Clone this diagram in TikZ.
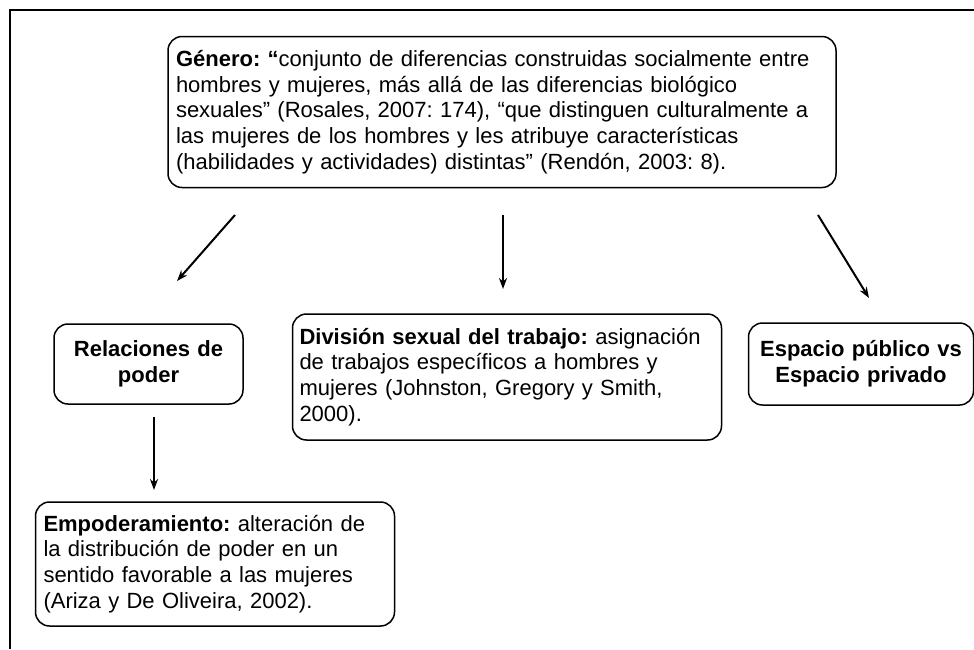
\documentclass[tikz,border=0pt]{standalone}
\usepackage{fontspec}
\setmainfont{Liberation Sans}
\usetikzlibrary{positioning,arrows.meta}
\frenchspacing

\tikzset{
  box/.style={draw, line width=1.5pt, rounded corners=14pt, inner xsep=8pt, inner ysep=4pt,
    font=\fontsize{22}{25.7}\selectfont},
  arr/.style={-{Stealth[length=11pt,width=8pt]}, line width=2pt},
}

\begin{document}
\begin{tikzpicture}[x=1pt,y=-1pt]
  \useasboundingbox (0,0) rectangle (974,649);
  \draw [line width=1.5pt] (10,649) -- (10,10) -- (974,10);

  \node [box, text width=652pt, align=left, minimum height=151pt] (genero) at (502,112)
    {\textbf{Género: “}conjunto de diferencias construidas socialmente entre\\
     hombres y mujeres, más allá de las diferencias biológico\\
     sexuales” (Rosales, 2007: 174), “que distinguen culturalmente a\\
     las mujeres de los hombres y les atribuye características\\
     (habilidades y actividades) distintas” (Rendón, 2003: 8).};

  \node [box, text width=173pt, align=center, minimum height=80pt] (poder) at (148.5,364)
    {\textbf{Relaciones de}\\\textbf{poder}};
  \node [box, text width=415pt, align=left, minimum height=126pt, inner xsep=7pt] (trabajo) at (507,377)
    {\textbf{División sexual del trabajo:} asignación\\
     de trabajos específicos a hombres y\\
     mujeres (Johnston, Gregory y Smith,\\
     2000).};
  \node [box, text width=209pt, align=center, minimum height=82pt] (espacio) at (861,364)
    {\textbf{Espacio público vs}\\\textbf{Espacio privado}};
  \node [box, text width=343pt, align=left, minimum height=124pt] (empod) at (215,564)
    {\textbf{Empoderamiento:} alteración de\\
     la distribución de poder en un\\
     sentido favorable a las mujeres\\
     (Ariza y De Oliveira, 2002).};

  % arrow ends
  \coordinate (g1) at (235,215);
  \coordinate (g2) at (503,215);
  \coordinate (g3) at (818,215);
  \coordinate (p1) at (177,281);
  \coordinate (t1) at (503,289);
  \coordinate (e1) at (869,298);
  \coordinate (d1) at (154,417);
  \coordinate (d2) at (154,490);

  \draw [arr] (g1) -- (p1);
  \draw [arr] (g2) -- (t1);
  \draw [arr] (g3) -- (e1);
  \draw [arr] (d1) -- (d2);
\end{tikzpicture}
\end{document}
